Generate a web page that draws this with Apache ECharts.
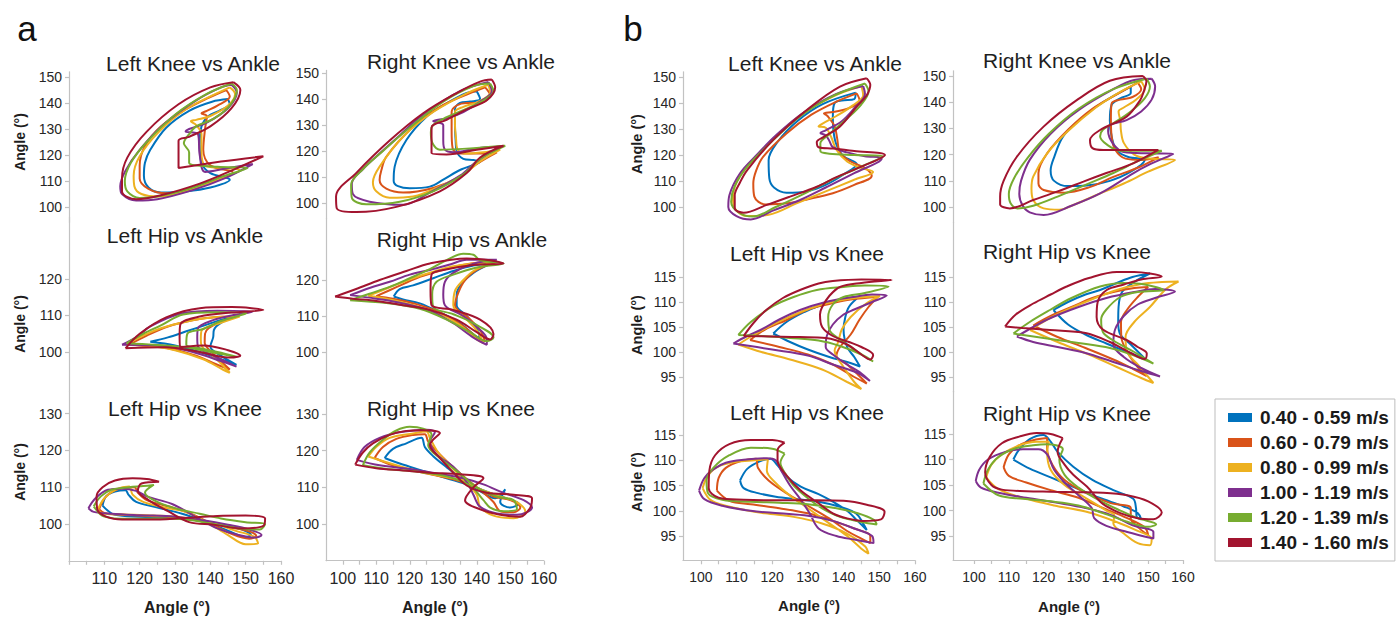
<!DOCTYPE html>
<html>
<head>
<meta charset="utf-8">
<title>Joint angle cyclograms by walking speed</title>
<script src="https://cdn.jsdelivr.net/npm/echarts@6/dist/echarts.min.js"></script>
<style>
  html, body { margin: 0; padding: 0; background: #ffffff; }
  #chart { width: 1399px; height: 618px; }
</style>
</head>
<body>
<div id="chart"></div>
<script>
// Speed bands (legend order) and their line colours
const speedBands = ['0.40 - 0.59 m/s', '0.60 - 0.79 m/s', '0.80 - 0.99 m/s', '1.00 - 1.19 m/s', '1.20 - 1.39 m/s', '1.40 - 1.60 m/s'];
const bandColors = ['#0072BD', '#D95319', '#EDB120', '#7E2F8E', '#77AC30', '#A2142F'];

// Tick values
const yTicksKneeAnkle = [100, 110, 120, 130, 140, 150];
const yTicksHipAnkle = [100, 110, 120];
const yTicksHipKneeA = [100, 110, 120, 130];
const yTicksHipKneeB = [95, 100, 105, 110, 115];
const xTickMarks = [100, 105, 110, 115, 120, 125, 130, 135, 140, 145, 150, 155, 160];
const xLabelsFrom110 = [110, 120, 130, 140, 150, 160];
const xLabelsFrom100 = [100, 110, 120, 130, 140, 150, 160];

// Each cyclogram: one closed loop per speed band, [x angle, y angle] in degrees.
// Panel a
const aLeftKneeAnkle = [
  [[145,141.5],[145.5,139.5],[142.5,137],[139.5,135],[137.5,131],[137,124],[137.5,117],[140,113],[145.5,110.5],[140,107.5],[133,106],[126,105.6],[122.5,107.5],[121.2,112],[121.5,117],[123,122],[127.5,130.5],[134,137],[140.5,140.5],[145,141.5]],
  [[144.5,145],[145.5,142.5],[142,139],[139,137],[137.5,136],[139,135],[138.5,130],[138,122],[140,116],[146.4,113.3],[140,109.5],[133,106.5],[127.5,105.3],[122.5,107],[120,111],[120,116],[121.5,123.5],[126,131],[133,137.5],[139.5,142],[144.5,145]],
  [[145.5,146],[147,143.5],[145,139],[140,135],[136,133.5],[134.5,133],[136,131.5],[137.5,128],[137.5,121],[138.5,116],[143,115],[148.3,114.2],[141,110],[133,106],[125.5,104],[120.5,105],[118.5,108],[118.3,112],[120,119.5],[125.5,129],[133,137.5],[141.5,143.5],[145.5,146]],
  [[146,147],[147.5,144],[145,138],[139,132.5],[134,130],[133,129],[136.5,128],[137,120],[138.5,113.5],[145,115],[152,116.5],[144,111],[135,106.5],[125,103],[119,102.5],[115,105],[114.5,108],[116,114],[120,122],[127,132],[136,141],[143,146],[146,147]],
  [[146,147.5],[147.5,145],[145.5,139],[141,134],[136,131],[134,128],[132.5,124.5],[134,121],[134,117],[142,115.5],[150.5,115],[143,111.5],[134,107],[125,104],[120,103.5],[116.5,106],[115.8,110],[117.5,117],[122,125],[130,135.5],[139,143.5],[146,147.5]],
  [[146.5,148],[148.5,145],[146,138],[140,131],[134,127],[131,125.5],[131,115],[143,117.5],[155,119.5],[146,114],[137,109],[126,104.5],[119,103],[115,106],[115,111],[116.5,119],[122,129],[131,139.5],[140,146],[146.5,148]]
];
const aRightKneeAnkle = [
  [[140,143],[141,140],[138,139],[135,138.5],[133.5,136],[133.5,130],[133.7,124],[134,120],[136,117],[139,116.5],[141,116],[135,112.7],[130,109],[126,106.3],[120,105.7],[116.5,106.5],[115.2,108.5],[115.5,114],[119,124.2],[125,133.2],[131,138.3],[137,142.3],[140,143]],
  [[142.5,144.5],[144,141.5],[141,138.5],[137,138.5],[134,137.5],[132.5,135],[132.5,128],[132.8,121],[135,119],[141,119],[146,119.5],[140,115],[135,110],[127,105.8],[118,104],[113,105.5],[111,108.8],[111.5,112.5],[113,117.8],[121,129.3],[129,137],[137,141.7],[142.5,144.5]],
  [[143.5,145.5],[144,142.5],[140.5,139],[136,137],[133.5,135],[133.5,130],[133.8,125],[134.3,120.5],[137,119],[142,119.5],[147,120.5],[141,116],[136,111],[130,107],[121,102.5],[114,102],[110,104.5],[109,108],[111,114],[118,125.5],[127,135],[137,142.2],[143.5,145.5]],
  [[143.5,146.5],[144.5,143],[141,139],[136,135],[131,132.5],[128.5,132],[127,131.5],[130,130],[130,124],[130.5,120.5],[133,119.5],[140,121],[147,121.7],[140,116],[135,110.5],[126,104],[118,99.3],[108,100.5],[103,103.5],[102.7,107.5],[106,113],[111,119],[117,126],[123,133],[135,143],[143.5,146.5]],
  [[144,146],[145,143],[142,139.5],[136.5,136],[131,133],[127,130],[126.3,127],[126.8,123],[129,120.5],[138,121],[148.5,122],[141,117],[136,111],[127,104.5],[117,100.5],[107,99.5],[102.7,102],[102.5,107],[106,113],[112,120],[120,129],[130,139],[139,145],[144,146]],
  [[144.5,147.5],[145.5,144.5],[143,139.5],[137,136],[131,132],[126.5,129],[126.5,124],[126.5,119.2],[131,118.7],[140,120.5],[148,122],[141,117.5],[137,111.5],[129,104.5],[116,98.5],[104,96.5],[98.2,98],[98,102.5],[104,111.5],[114,124],[124,134.5],[134,142.3],[141,146.7],[144.5,147.5]]
];
const aLeftHipAnkle = [
  [[123,102.8],[128,104],[133,105.6],[139,107.5],[143,108.8],[147,109.5],[143,108],[141,106],[140.8,104],[140,101.5],[143,99],[147.4,96.5],[143,98],[137,100],[130,101.8],[123,102.8]],
  [[117,102],[122,104.5],[128,107],[135,108.7],[142,109.6],[148,109.7],[143,108.3],[139.5,106.5],[138.5,105],[138.4,102.5],[140,100.3],[143,97.5],[145.5,95.2],[142,96.5],[136,99],[128,101],[120,101.8],[117,102]],
  [[116.3,102.2],[121,104.5],[126,106.5],[133,108.3],[141,109.5],[148.3,109.7],[143,108],[139,106.8],[137.5,105.8],[137.3,103.5],[137.5,101.8],[142,97.8],[145.5,94.3],[143.5,95.2],[138,98],[130,100.5],[122,101.8],[116.3,102.2]],
  [[115,102],[119,104],[123,107],[132,110.6],[142,111.3],[152,111],[146,110],[141,108.8],[136.5,106.5],[136.3,104],[136.5,101.5],[141.5,98.7],[147.4,96],[143,97.5],[136,99.7],[126,101.8],[115,102]],
  [[116.3,102.4],[121,105],[126,107.3],[132.3,110.3],[141.7,110.9],[150.2,110.6],[143,108.5],[138,106.3],[133.5,105],[133.2,102],[137,101],[142,100],[147.4,98.7],[141,99.8],[133,101.3],[124,102],[116.3,102.4]],
  [[116,101],[120,105],[127.5,109.5],[137,112],[146,112.3],[155,111.5],[146,110.8],[137,109.7],[131.5,107.5],[131.3,104],[131.5,101.3],[138,101.8],[145,100.5],[148.5,99],[145,98.5],[137,100],[127,101.3],[116,101]]
];
const aRightHipAnkle = [
  [[115.2,115.4],[117,117.5],[121,118.5],[127,120.5],[133,122.5],[139,124],[144,124.5],[139,122],[135.5,119],[134,116],[134,113],[137,110],[140,106.5],[141,104],[139.5,104.5],[135,108],[129,111],[123,113.5],[118,114.6],[115.2,115.4]],
  [[110,115.5],[116,118],[122,120.5],[128,122.3],[134,123.8],[140,124.8],[146,125],[140,122.8],[136.5,120],[134.5,116.5],[133.5,113],[137.5,109.5],[141,106],[142.5,103],[140.5,103.8],[135.5,107.5],[129,111],[122,113.3],[115,114.8],[110,115.5]],
  [[107.6,115.6],[114,118],[121,120.5],[127,122.3],[133,123.8],[139,124.6],[145,125.1],[139,122.5],[136,120],[133.5,117],[133,113],[137,109],[140,106],[142,102.5],[140,103.5],[135,107.5],[128,111],[120,113.3],[113,114.8],[107.6,115.6]],
  [[102.2,115.8],[108,117.8],[114,119.5],[120,121.5],[126,122.8],[132,124.3],[137,125.6],[146,125.6],[139,124.5],[133,122],[130.5,119.5],[130,116],[130.5,113],[136,110],[140,107],[143,103.5],[143,102],[139,104],[133,108],[126,111.5],[118,113.5],[110,114.8],[102.2,115.8]],
  [[102.2,114.4],[108,116.2],[114,118.1],[120,120.5],[126,123],[131,125.5],[136,127.3],[139,127],[141,125.5],[148,124.6],[140,123.5],[133,121.5],[128,119.5],[126.7,116],[127,112.5],[133,110.5],[139,108],[145,104],[143,103],[138,105.5],[131,109],[123,112],[113,113.6],[102.2,114.4]],
  [[97.7,115.4],[104,117.5],[111,120],[119,122.5],[126,124.6],[137,126],[144,125.5],[148,124.6],[139,124.2],[130,122.8],[126.5,121.5],[126.2,117],[126.5,113],[133,111.7],[141,109],[145,105],[144,103.5],[140,105.5],[134,109],[126,111.7],[118,113],[110,114.2],[103,114.8],[97.7,115.4]]
];
const aLeftHipKnee = [
  [[109.5,105],[110.5,107.5],[113,108.8],[116,109.2],[116.8,108],[119,106],[125,104.5],[132,102.8],[139,100.5],[145,98.2],[150,96.5],[151.5,97],[149,98.5],[143,99.8],[136,101.2],[128,101.8],[120,102],[113,102.5],[109.5,105]],
  [[108.5,104],[110.5,107.5],[114,109.5],[118.5,110],[119.5,108.5],[122,106.5],[128,104.8],[134,103],[140,100.2],[146,97.3],[151,96],[153,96.8],[151,98],[146,99],[139,100.5],[131,101.7],[123,102.2],[115,102.5],[110,103],[108.5,104]],
  [[108,103.5],[110,107],[113.5,109.5],[117,110.2],[118,108],[121,106],[127,104.5],[133,103.3],[139,100.5],[145,97],[150,94.5],[153.5,94.7],[152.5,96.5],[147,98.2],[140,100.5],[132,101.8],[124,102.3],[116,102.6],[110,102.8],[108,103.5]],
  [[105.5,104.3],[107.5,107],[111,109.3],[115,109.6],[119,109],[122,107.5],[129.5,105.3],[137,101.3],[142,98.8],[148,97],[152.5,96.3],[154.5,97],[151,98.5],[145,99.8],[138,101],[130,102],[120,102.4],[112,102.8],[107,103.3],[105.5,104.3]],
  [[107,104.8],[109,107.5],[112,109.3],[117,110],[121,110.3],[124,110.6],[121.5,108.5],[125,106],[131,104],[137,102.8],[143,101.5],[150,100.5],[155.5,100],[154,98.5],[148,98.8],[141,100],[133,101.2],[125,101.5],[117,101.4],[110,102],[107,104.8]],
  [[125.5,111.5],[122,112.2],[118,112.4],[113,111.8],[109.5,110],[107.8,107.5],[108,104],[110.5,102],[115,101.2],[123,101.2],[132,101.6],[142,102.2],[150,102.3],[155.5,101.5],[155,99.5],[149,98.8],[141,99.8],[134,100.5],[128,103.5],[122.5,106.5],[119.5,109],[120.5,111],[125.5,111.5]]
];
const aRightHipKnee = [
  [[112.5,118],[115,120.5],[119,122],[123.5,123.5],[124.5,121],[127,118.5],[131,115.5],[136,112],[141,109],[145.5,107],[148.5,109.5],[147,106],[150,104.5],[152.5,105.5],[149,107],[144,108.5],[138,110.5],[131,112.5],[124,114.5],[117,116.5],[112.5,118]],
  [[109.5,118],[112,121],[116,123.2],[121,124.3],[124.5,124.5],[125.5,122.5],[129,119],[133,115.5],[138,111.5],[142,108.5],[145,106],[147,103.5],[151,103.2],[153,104.5],[150,106.5],[145,107.5],[140,110],[133,112.2],[124,114],[115,116],[109.5,118]],
  [[107.6,118.4],[110,121],[114,123.5],[121,124.7],[125,125.2],[126,123.5],[128.5,119.5],[132,116],[136,112],[140,108],[141,104.7],[145,102.3],[151,101.6],[154.5,103.5],[152,106],[147,107.5],[141,109.5],[135,112],[127,113.5],[118,115.5],[107.6,118.4]],
  [[104.2,117.5],[106.5,121],[111,123.5],[117,125],[125,125.7],[127.5,125],[126,122.5],[128,119],[133,115.6],[137,111.5],[139,108],[141,104.7],[146,102.9],[152,102.5],[156.5,104.5],[154,106.5],[148,108.5],[142,110.8],[136,112.5],[128,113.8],[120,115],[111,116],[104.2,117.5]],
  [[106,116],[108,119.5],[112,123],[116,125.5],[120,126.5],[124,126],[126.5,124.5],[125.5,121.5],[129,118],[134,114.5],[140,110],[146,107.5],[151,106.5],[152,104],[148,103.5],[144,104.5],[142,106.5],[138,110.5],[131,113],[122,114.3],[113,115],[106,116]],
  [[103.7,116.2],[106,119.5],[109,122],[114,124.3],[119,125.4],[124,125.6],[129,124.8],[127,123],[126,121.5],[129,118],[132,115],[137,110.5],[143,108.5],[151,108],[156.5,107],[156,104.5],[153,102],[147,102.5],[141,104],[136.5,106.5],[139,110],[142,112.5],[135,113.6],[126,114],[118,114.6],[110,115.2],[103.7,116.2]]
];
// Panel b
const bLeftKneeAnkle = [
  [[143.4,144],[143,141.5],[139.5,141],[137.5,140],[137,135],[137.2,129],[138,124],[140,119.5],[143.7,116.5],[140,112.5],[135,108.5],[129.7,106],[124,105.5],[120.5,107.5],[119.2,111],[119,118],[121.5,125],[127,133],[134,139.5],[143.4,144]],
  [[143.7,143.7],[144.5,141],[141.5,138],[137,136.5],[134.5,136],[135.5,135],[137.5,131],[138.2,126.5],[139,121],[142,117.5],[146,115],[147.9,112],[143,108.5],[137,105.3],[130,103],[124,101.4],[118,101],[115,104],[114.7,109],[115.5,114],[117.5,119.4],[124,128.3],[131,135.5],[138,140.5],[143.7,143.7]],
  [[145,146.5],[145.5,143],[142.5,139],[138,135],[134,132],[133,131],[135,130.5],[136.5,127],[138,122],[141,117.5],[145,115],[148.3,113.5],[143,110.5],[135,106],[127,101.5],[119,97],[113,96.5],[109.5,99.5],[109,104],[111,112],[116,120],[121,127],[128,135.5],[137,142.5],[145,146.5]],
  [[145.5,146.5],[146,143.5],[143,138],[139.5,133],[135,129.5],[133.5,128.5],[135,127.5],[136,125.5],[137,123],[141,121],[146,119.5],[150.7,118.7],[143,113],[135,107.5],[127.8,102.7],[120,98.5],[114,95.2],[110,96.5],[107.7,100],[108,104.5],[111,113],[116,120.5],[121,127.5],[129,136.5],[138,143.5],[145.5,146.5]],
  [[146,147.5],[147,144.5],[145,139.5],[141,134],[136,128],[133.5,124.5],[133.5,121.5],[136,120.5],[143,120],[151.2,119.5],[144,115],[136,110],[128,104.5],[121,100],[114.5,96.3],[110.5,98],[108.5,102],[109.5,108],[113,115.5],[119,124],[127,134],[136,142],[146,147.5]],
  [[146.5,149.5],[147.5,147],[146.5,143],[143.7,138.6],[139,131],[134.5,127],[132.5,125],[133,123],[137,122.5],[143,121.5],[151.6,120],[145,115.5],[138,111.5],[132.5,107.8],[125,104],[118.5,100.8],[112,97.8],[109.5,99.5],[109.5,104.5],[111,109.5],[113,114.2],[120.3,125.8],[129.7,137.3],[139,146.3],[146.5,149.5]]
];
const bRightKneeAnkle = [
  [[145,146],[145,143.5],[142,141.5],[139.5,139],[139,133],[139.5,127],[141,121.5],[144.5,119],[149,118],[145,113.5],[139,110],[132.4,108.2],[127,108],[123,110],[122,114],[123,119],[125.6,127],[131,134],[137,140],[145,146]],
  [[147,147.5],[148,145],[145.5,142],[142,141],[139.5,139.5],[139.3,134],[139.5,127],[140.5,122],[143.5,118.5],[148,118],[153,119],[147,115],[140,111.5],[133,107.5],[126,105.5],[120,106.5],[118.5,109],[118.5,113],[121,120.5],[127,129.5],[134,137.5],[141,143],[147,147.5]],
  [[148,148],[149,145],[146.5,141],[143,138],[141.5,136.5],[142,133],[142.2,129],[143,124.5],[146,120],[150,118.5],[157.7,118],[150,113.5],[143,109],[135,104.5],[128,100.5],[124.5,99],[120,99.5],[117,102.7],[116.5,107],[117,111.6],[121,120.5],[127,129],[135,138],[142,144],[148,148]],
  [[151,149],[152,146],[151,141],[148,136.5],[143.8,133.2],[139,131.3],[138.5,129],[140,124],[143,121],[150,120.5],[157.2,120.3],[150,116],[145.7,112.9],[136.2,105.2],[128,100.5],[120,97],[116,98],[114,100.5],[113,105],[113.5,110],[116,118],[122,128],[130,137],[140,145],[146,148.5],[151,149]],
  [[149.5,149],[150.5,146],[149,141.5],[145,136.5],[140,132],[137,129.5],[136.2,127],[138,124],[142,121.5],[148,121.5],[153.9,121.5],[147,117.5],[140,113],[132,108.5],[124,104],[117,100.5],[112.5,99.5],[110.5,101.5],[110,105],[111.5,111],[115.5,119],[121.5,128],[130,137.5],[140,145],[149.5,149]],
  [[148.5,150],[149.5,148],[148.7,144],[147.7,140.8],[143.8,134.5],[136.2,129.4],[133.3,125.6],[134,122.5],[137.1,121.8],[145,121.8],[152.9,121.8],[145.7,116.7],[138,113],[131.4,109.7],[124,106],[117,102.7],[110.3,99.5],[107.5,101],[107.5,104],[108.5,110],[112.3,119.2],[119.9,130.6],[129.5,140.8],[139,148.2],[148.5,150]]
];
const bLeftHipKneeMid = [
  [[120.3,103.7],[124,106],[129,108],[133,109.2],[137.1,110.1],[141,110.6],[143.7,110.7],[141.5,109],[140.5,107],[140,104.5],[141,101],[143,99],[144.6,97.1],[141,98],[136,99],[130,100.5],[125,102],[120.3,103.7]],
  [[113.8,102.4],[118,104.5],[124,106.4],[130,108.5],[136,109.6],[142,110.5],[149.5,111],[147,109],[144.5,106.5],[142,103.5],[139,101],[138,99.2],[141,97.5],[144,95.5],[146.5,93.7],[143,95],[137,97.5],[130,99.5],[122,101],[113.8,102.4]],
  [[110.5,101.5],[115,103.5],[121,105.8],[128,108],[135,109.7],[143,110.8],[150.2,111.2],[146,109.5],[142,107],[139.5,104.5],[138.5,102],[137.5,100.3],[140,97],[143,94],[145,92.6],[141,94],[134,96.5],[125,98.5],[117,100],[110.5,101.5]],
  [[109.1,101.7],[113,103.2],[117,104.5],[122,106.5],[127.8,108.4],[135,110],[142.7,111],[148,111.5],[152.1,111.3],[148,110],[143,108.5],[140,107.5],[137,105.5],[135.3,103.2],[135,101],[137,99.5],[141,97.5],[144.5,96],[147.4,94.2],[144,95.8],[137,97.5],[130,99.3],[120,100.5],[109.1,101.7]],
  [[110.5,103.4],[114,106],[120.3,109.2],[126,111],[132.5,112.4],[140,113],[146,113.3],[152.6,113.1],[146,111.8],[140,111],[137,109.5],[135.7,107],[136,104.5],[139,102.5],[143,100.5],[148.3,98.1],[145,99.5],[139,101.2],[133,102.3],[125,102.8],[117,103.2],[110.5,103.4]],
  [[112,103.2],[115,106],[118.5,108.5],[123,110.8],[127.8,112.4],[133,113.7],[137,114.2],[145,114.5],[153.5,114.4],[145,113.8],[139,113],[136,111.2],[134,109],[133.4,107.5],[134,105],[137,103.2],[141.5,102],[145,101],[148.3,99.4],[147.5,98.5],[145,99.5],[141,101.5],[135,102.8],[127.8,103],[120,103.1],[112,103.2]]
];
const bRightHipKneeMid = [
  [[122.8,108.4],[127,110],[132,111.5],[136.2,112.4],[141,113.8],[145.5,115],[150.5,115.7],[146,114],[142.5,112],[141.5,109],[141.4,106],[142,103.5],[145,101.5],[149,98.7],[144,100],[138,101.7],[132,103.5],[127,105.5],[122.8,108.4]],
  [[117,105.3],[122,107.2],[128,109],[134,110.8],[140,112],[146,112.8],[150,113],[147,111],[144,108.5],[142.2,106],[142.3,103],[144,100],[147,97],[149.6,95.2],[146,96.5],[140,98.5],[132,100.8],[124,103],[117,105.3]],
  [[116.1,104.4],[121,106.5],[126.6,108.4],[133,110.3],[141,112.4],[148,113.6],[154,114],[158.7,114.1],[155,112.5],[150.5,109],[146,106],[143.5,103],[144,100],[147,97.5],[151.5,93.8],[148,94.8],[141,97],[133,99.5],[124,102],[116.1,104.4]],
  [[112.3,103.1],[117,105],[122,106.8],[130,109],[138,110.8],[146,112],[152,112.6],[157.7,112.1],[152,110.8],[147,109.5],[143,107.2],[140.5,104.5],[140,101.5],[143,99],[148,96.8],[153.4,95.1],[148,96.2],[140,98],[132,99.8],[124,101],[117,102],[112.3,103.1]],
  [[111.3,103.7],[116,106],[121.8,108.4],[128,110.8],[136.2,113.1],[143,113.8],[149,113.5],[154.4,112.4],[147,112],[142,111],[138,108.5],[136.5,106.5],[137,104],[140,102.3],[146,100],[151.5,97.7],[146,99.3],[139,100.8],[130,101.8],[120,102.8],[111.3,103.7]],
  [[108.9,105.1],[112,107.5],[117,109.7],[122,111.5],[126.6,113.1],[133,114.8],[141,116],[146,116],[150.5,115.7],[153.9,115.1],[148,114.5],[143,113.5],[138.1,112.4],[135.5,110],[135.2,107],[137,104.5],[143.8,102.4],[147,101],[149.6,99.7],[149,98.6],[145,99.8],[139,102],[132,103.8],[121.8,104.4],[114,104.8],[108.9,105.1]]
];
const bLeftHipKneeLow = [
  [[111,106],[113,108.3],[116.5,109.8],[119.5,110.3],[121.5,109],[124,106.8],[128,104.8],[133,103.3],[137,101.8],[141,100],[143.5,98.3],[146.5,96.2],[145.5,97.5],[143.5,99.5],[139,100.8],[133,101.8],[127,102.3],[121,102.8],[116,103.5],[112,104.5],[111,106]],
  [[104.5,104],[105,106.5],[107,108.5],[111,109.8],[115.5,110.3],[116,108.5],[119,106],[124,103.5],[130,101],[136,98.5],[141,96],[145,94.5],[147.5,93.6],[147.5,95],[143,96.5],[137,98],[130,99.5],[122,100.5],[114,101.3],[108,102],[104.5,104]],
  [[100.5,104.5],[102,107],[105,108.8],[110,109.7],[115,110],[118.8,110.2],[118.5,108],[121,105.5],[125,103],[130,100.5],[136,97.5],[141,95],[145,92.5],[147,91.5],[146,93],[141,95.5],[134,97.5],[126,98.8],[118,99.5],[110,100.5],[103,102],[100.5,104.5]],
  [[99.5,104],[101,106.5],[103.5,108.2],[107,109.5],[112,110.1],[118.5,110.4],[121,110],[122.5,108],[125,105],[128,102.2],[130.5,99.5],[133,96.5],[138,95],[143,94.3],[148.4,93.6],[148,95],[143,96.5],[137,98],[130,99],[122,99.5],[114,100],[106,101],[101,102.3],[99.5,104]],
  [[123.5,111.3],[120,112.3],[114,112.5],[108,111],[103.5,108.5],[101.6,106],[102,103.5],[106,102.2],[114,101.8],[122,101.6],[130,101.3],[138,100.5],[144,99.5],[148.5,98.2],[149.3,97.3],[145,97.8],[139,98.8],[134,100.5],[130,102.5],[126,105],[124,107],[122.3,109.5],[123.5,111.3]],
  [[123.5,113.5],[120,114],[114,114],[108,113.2],[104,111],[102.4,108],[102.2,104.5],[105,102.6],[112,102.2],[118.5,102.1],[126,102.1],[132.5,102.1],[140,102],[146.5,101.2],[151.5,99.8],[150.5,98.3],[145.5,98],[141,98.5],[137,99.5],[133,101.5],[128,104],[124,107],[121.5,110],[121.5,112],[123.5,113.5]]
];
const bRightHipKneeLow = [
  [[111.3,110],[113,112],[116,114],[119.9,114.8],[122,113.5],[124,111.5],[128.5,108.6],[134,106],[140,104],[145.7,102.3],[146.5,100.5],[146.7,98.8],[148,98.3],[147,99.5],[143,100.8],[136,102.5],[129,104.5],[122,106.5],[116,108.2],[111.3,110]],
  [[108.5,108.5],[110,111],[113,112.8],[117,113.8],[121,114.2],[121,112],[122.5,109],[126,106],[132,103.5],[139,101.5],[145,100.5],[145,98.5],[147.5,96.5],[150,95.2],[149,96.7],[144,98.5],[137,100.5],[130,102.5],[122,104],[115,105.5],[110,106.8],[108.5,108.5]],
  [[103.5,106.5],[105,109],[108,111],[113,112.8],[118,113.5],[121.5,113.5],[121,111.5],[122,108],[126,105],[132,102.5],[138,100],[140.3,99],[140,97.5],[143,95.5],[147,93.6],[150.5,93.2],[151,94.5],[147,96],[140,98],[132,99.8],[123,101],[114,102.5],[107,104.2],[103.5,106.5]],
  [[100.5,105.8],[101.5,108],[104,110],[109,111.5],[114,112],[118.5,112],[121,111],[123,108],[126,105.5],[130,103],[133.8,100.5],[134.5,98.5],[138,97],[144,95.8],[151.5,94.5],[151.5,95.8],[146,97],[139,99.2],[132,100.5],[124,101.5],[115,102.5],[107,103.5],[102,104.5],[100.5,105.8]],
  [[102.7,105.3],[104,108],[107,110.5],[112,112.2],[117,112.8],[121,113],[125.5,112],[124.5,110],[126,107],[130,104.5],[136,102],[142,100],[147,98.5],[152.3,97.3],[150,96.8],[144,97.8],[137,99.5],[130,101],[122,101.8],[114,102.3],[107,103],[102.7,105.3]],
  [[125.5,114.2],[122,115],[118,115.2],[113,114.5],[108,113.2],[104.5,110.5],[103.2,107.5],[105,105],[108,104.1],[115,103.8],[122,103.7],[130,103.6],[137,103.5],[144,103],[150,101.8],[153.9,99.6],[151.5,98.3],[147,98.5],[142,99.5],[137,101.3],[132.4,104.7],[128.5,107],[126,109],[124,111.5],[125.5,114.2]]
];

// Layout of the twelve plotting areas: [left, top, width, height] in px
const FONT = '"Liberation Sans", Arial, Helvetica, sans-serif';
const AXIS_GREY = '#c2c2c2';
const LABEL_COLOR = '#262626';

const panels = [
  { loops: aLeftKneeAnkle,   rect: [69, 71.8, 212, 150.8],     x: [100, 160], y: [94, 152],     yTicks: yTicksKneeAnkle },
  { loops: aLeftHipAnkle,    rect: [69, 216.95, 212, 174.1],   x: [100, 160], y: [89.3, 137],   yTicks: yTicksHipAnkle },
  { loops: aLeftHipKnee,     rect: [69, 391.5, 212, 169.3],    x: [100, 160], y: [90, 136],     yTicks: yTicksHipKneeA, xLabels: xLabelsFrom110, xFont: 16 },
  { loops: aRightKneeAnkle,  rect: [326, 70.4, 217.75, 148.2], x: [95, 160],  y: [94, 151],     yTicks: yTicksKneeAnkle },
  { loops: aRightHipAnkle,   rect: [326, 218.1, 217.75, 173.5],x: [95, 160],  y: [89, 137.2],   yTicks: yTicksHipAnkle },
  { loops: aRightHipKnee,    rect: [326, 392, 217.75, 168.7],  x: [95, 160],  y: [90, 136],     yTicks: yTicksHipKneeA, xLabels: xLabelsFrom100, xFont: 16 },
  { loops: bLeftKneeAnkle,   rect: [683, 71.8, 231.9, 150.8],  x: [95, 160],  y: [94, 152],     yTicks: yTicksKneeAnkle },
  { loops: bLeftHipKneeMid,  rect: [683, 222, 231.9, 170],     x: [95, 160],  y: [92, 126],     yTicks: yTicksHipKneeB },
  { loops: bLeftHipKneeLow,  rect: [683, 392.1, 231.9, 168.2], x: [95, 160],  y: [90.2, 123.5], yTicks: yTicksHipKneeB, xLabels: xLabelsFrom100, xFont: 14 },
  { loops: bRightKneeAnkle,  rect: [953.1, 70.8, 229.9, 152],  x: [94, 160],  y: [94, 152],     yTicks: yTicksKneeAnkle },
  { loops: bRightHipKneeMid, rect: [953.1, 222, 229.9, 170],   x: [94, 160],  y: [92, 126],     yTicks: yTicksHipKneeB },
  { loops: bRightHipKneeLow, rect: [953.1, 391.2, 229.9, 168.8], x: [94, 160], y: [90.3, 123.4], yTicks: yTicksHipKneeB, xLabels: xLabelsFrom100, xFont: 14 }
];

// Subplot titles: [text, centre x, centre y]
const subplotTitles = [
  ['Left Knee vs Ankle', 193, 63], ['Right Knee vs Ankle', 461, 61],
  ['Left Hip vs Ankle', 185, 235], ['Right Hip vs Ankle', 462, 239],
  ['Left Hip vs Knee', 185, 408], ['Right Hip vs Knee', 451, 408],
  ['Left Knee vs Ankle', 815, 63], ['Right Knee vs Ankle', 1077, 60],
  ['Left Hip vs Knee', 807, 253], ['Right Hip vs Knee', 1067, 251],
  ['Left Hip vs Knee', 807, 412], ['Right Hip vs Knee', 1067, 413]
];
// Axis names: [centre x, centre y, font size, rotated]
const axisNames = [
  [20, 142, 14, true], [20, 324, 14, true], [20, 472, 14, true],
  [637, 144, 14.5, true], [637, 325, 14.5, true], [637, 482, 14.5, true],
  [177, 607, 16, false], [435, 607, 16, false], [809, 605, 15, false], [1069, 606, 15, false]
];
const panelLetters = [['a', 27, 28], ['b', 633, 28]];

const grid = panels.map(p => ({ left: p.rect[0], top: p.rect[1], width: p.rect[2], height: p.rect[3], containLabel: false }));

const xAxis = panels.map((p, i) => ({
  gridIndex: i, type: 'value', min: p.x[0], max: p.x[1], show: !!p.xLabels,
  axisLine: { show: true, onZero: false, lineStyle: { color: AXIS_GREY, width: 1.2 } },
  axisTick: { show: true, length: 4, customValues: xTickMarks, lineStyle: { color: AXIS_GREY, width: 1.2 } },
  axisLabel: { customValues: p.xLabels || [], fontSize: p.xFont || 14, color: LABEL_COLOR, margin: 10, fontFamily: FONT },
  splitLine: { show: false }
}));

const yAxis = panels.map((p, i) => ({
  gridIndex: i, type: 'value', min: p.y[0], max: p.y[1],
  axisLine: { show: true, onZero: false, lineStyle: { color: AXIS_GREY, width: 1.2 } },
  axisTick: { show: true, length: 4, customValues: p.yTicks, lineStyle: { color: AXIS_GREY, width: 1.2 } },
  axisLabel: { customValues: p.yTicks, fontSize: 14, color: LABEL_COLOR, margin: 7, fontFamily: FONT },
  splitLine: { show: false }
}));

const series = [];
panels.forEach((p, i) => {
  p.loops.forEach((loop, b) => {
    series.push({
      type: 'line', name: speedBands[b], xAxisIndex: i, yAxisIndex: i,
      data: loop, smooth: 0.35, symbol: 'none', clip: false, silent: true,
      color: bandColors[b], lineStyle: { width: 2, color: bandColors[b] }
    });
  });
});

const graphic = [];
subplotTitles.forEach(([text, x, y]) => graphic.push({
  type: 'text', x, y, silent: true,
  style: { text, fill: '#1e1e1e', font: '21px ' + FONT, align: 'center', verticalAlign: 'middle' }
}));
axisNames.forEach(([x, y, size, rotated]) => graphic.push({
  type: 'text', x, y, rotation: rotated ? Math.PI / 2 : 0, silent: true,
  style: { text: 'Angle (°)', fill: '#1e1e1e', font: 'bold ' + size + 'px ' + FONT, align: 'center', verticalAlign: 'middle' }
}));
panelLetters.forEach(([text, x, y]) => graphic.push({
  type: 'text', x, y, silent: true,
  style: { text, fill: '#111', font: '35px ' + FONT, align: 'center', verticalAlign: 'middle' }
}));

const chart = echarts.init(document.getElementById('chart'), null, { renderer: 'svg', width: 1399, height: 618 });
chart.setOption({
  animation: false,
  backgroundColor: '#ffffff',
  grid, xAxis, yAxis, series, graphic,
  legend: {
    data: speedBands, orient: 'vertical', left: 1215, top: 399,
    padding: [9, 6, 9, 13], itemGap: 6, itemWidth: 24, itemHeight: 9, icon: 'rect',
    borderColor: '#bdbdbd', borderWidth: 1, selectedMode: false,
    textStyle: { fontSize: 19, fontWeight: 'bold', color: '#1a1a1a', fontFamily: FONT, padding: [0, 0, 0, 3] }
  }
});
</script>
</body>
</html>
